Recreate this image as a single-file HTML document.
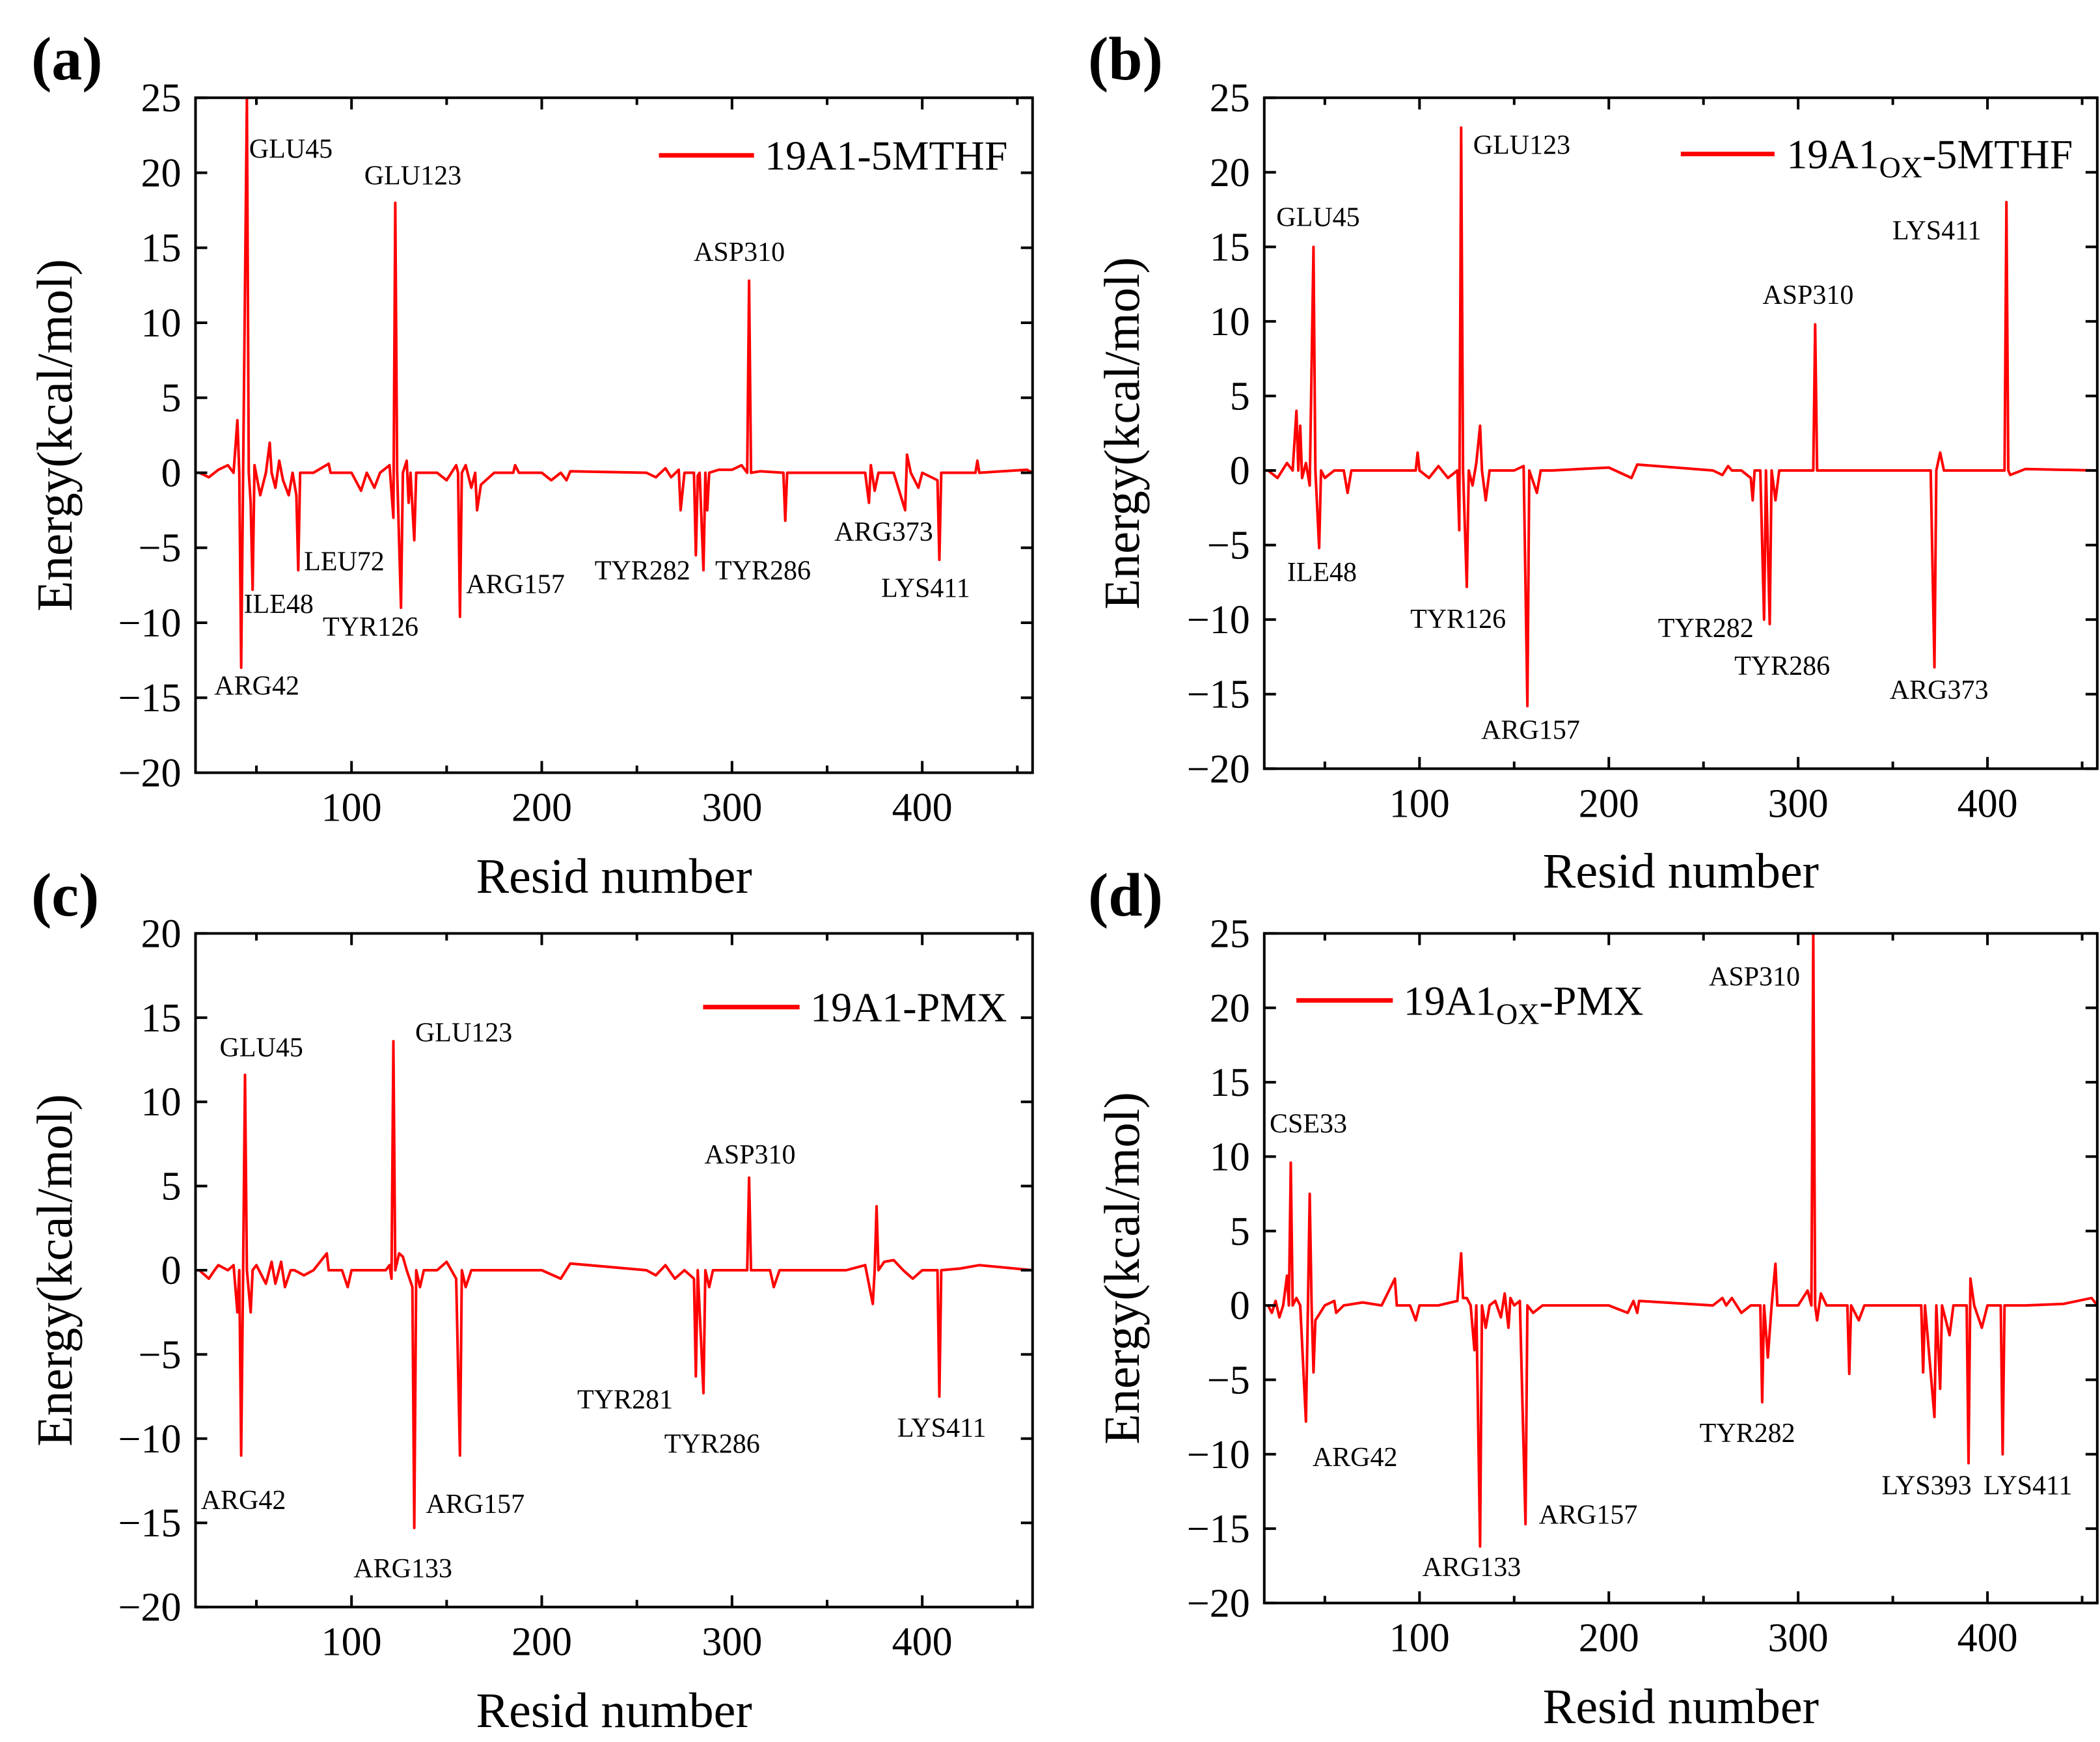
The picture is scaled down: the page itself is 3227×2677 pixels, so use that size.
<!DOCTYPE html>
<html><head><meta charset="utf-8">
<style>
html,body{margin:0;padding:0;background:#fff;}
svg{display:block;font-family:"Liberation Serif",serif;}
svg text{font-family:"Liberation Serif",serif;}
</style></head>
<body>
<svg id="fig" width="3227" height="2677" viewBox="0 0 3227 2677" xmlns="http://www.w3.org/2000/svg"></svg>
<script>
const resA=[20,25,30,35,38,40,41,42,43,45,46,47,48,49,52,55,57,58,60,62,64,67,69,71,72,73,80,88,89,100,105,108,112,115,120,122,123,124,126,127,129,130,131,133,134,140,145,150,155,156,157,158,160,163,165,166,168,175,185,186,188,200,205,210,213,215,255,260,265,268,272,273,275,280,281,282,283,285,286,287,288,293,300,305,308,309,310,315,327,328,329,340,370,372,373,375,377,385,391,392,394,398,400,408,409,410,428,429,430,455,458];
const valA=[0,-0.3,0.2,0.5,0,3.5,0,-13,0,25,0,-2,-7.8,0.5,-1.5,0,2,0,-1,0.8,-0.5,-1.5,0,-1.5,-6.5,0,0,0.6,0,0,-1.2,0,-1,0,0.5,-3,18,0,-9,0,0.8,-2,0,-4.5,0,0,0,-0.5,0.5,0,-9.6,0,0.5,-1,0,-2.5,-0.8,0,0,0.5,0,0,-0.5,0,-0.5,0.1,0,-0.3,0.3,-0.3,0.2,-2.5,0,0,-5.5,-0.2,0,-6.5,0,-2.5,0,0.2,0.2,0.5,0,12.8,0,0.1,0,-3.2,0,0,0,-2,0.5,-1.2,0,0,-2.5,1.2,0,-1,0,-0.5,-5.8,0,0,0.8,0,0.2,0];
const resB=[20,25,30,33,35,36,37,38,40,42,44,45,47,48,50,55,60,62,64,70,80,98,99,100,105,110,115,120,121,122,123,125,126,128,130,132,133,135,137,140,150,155,157,158,162,164,170,200,212,215,255,260,263,265,270,275,276,277,280,282,283,285,286,288,290,300,308,309,310,320,370,372,373,375,377,400,409,410,411,412,420,458];
const valB=[0,-0.5,0.5,0,4,0,3,-0.5,0.5,-1,15,0,-5.2,0,-0.5,0,0,-1.5,0,0,0,0,1.2,0,-0.5,0.3,-0.5,0,-4,23,0,-7.8,0,-1,0.5,3,0,-2,0,0,0,0.3,-15.8,0,-1.5,0,0,0.2,-0.5,0.4,0,-0.3,0.3,0,0,-0.5,-2,0,0,-10,0,-10.3,0,-2,0,0,0,9.8,0,0,0,-13.2,0,1.2,0,0,0,18,0,-0.3,0.1,0];
const resC=[20,25,28,30,35,38,40,41,42,43,44,45,47,48,50,55,58,60,63,65,68,70,75,80,87,88,95,98,100,110,118,120,121,122,123,125,127,129,132,133,134,136,138,145,150,155,157,158,160,163,170,200,210,215,255,260,265,270,275,280,281,282,285,286,288,290,300,308,309,310,320,322,325,360,370,374,375,376,377,380,385,390,395,400,408,409,410,420,430,458];
const valC=[0,-0.5,0,0.3,0,0.3,-2.5,0,-11,0,11.6,0,-2.5,0,0.3,-0.8,0.5,-0.8,0.5,-1,0,0,-0.3,0,1,0,0,-1,0,0,0,0.3,-0.5,13.6,0,1,0.8,0,-1,-15.3,0,-1,0,0,0.5,-0.5,-11,0,-1,0,0,0,-0.5,0.4,0,-0.3,0.3,-0.5,0,-0.5,-6.3,0,-7.3,0,-1,0,0,0,5.5,0,0,-1,0,0,0.3,-2,0,3.8,0,0.5,0.6,0,-0.5,0,0,-7.5,0,0.1,0.3,0];
const resD=[20,22,24,26,28,30,31,32,33,35,37,40,41,42,43,44,45,50,55,56,60,70,80,87,88,95,98,100,110,120,122,123,125,127,129,130,132,133,135,137,140,143,145,147,148,150,153,156,157,160,165,200,210,213,215,216,255,260,262,265,270,275,280,281,282,284,286,288,289,300,305,307,308,309,310,312,315,320,326,327,328,332,335,360,365,366,367,372,373,375,376,380,382,389,390,391,393,397,400,407,408,409,420,440,455,458];
const valD=[0,-0.5,0.3,-0.8,0,2,0,9.6,0,0.5,0,-7.8,-0.5,7.5,0,-4.5,-1,0,0.3,-0.5,0,0.2,0,1.8,0,0,-1,0,0,0.3,3.5,0.5,0.5,0,-3,0,-16.2,0,-1.5,0,0.3,-0.8,0.8,-1.5,0.5,0,0.3,-14.7,0,-0.5,0,0,-0.5,0.3,-0.5,0.3,0,0.5,0,0.5,-0.5,0,0,-6.5,0,-3.5,0,2.8,0,0,1,0,25,0,-1,0.8,0,0,0,-4.6,0,-1,0,0,0,-4.5,0,-7.5,0,-5.6,0,-2,0,0,-10.6,1.8,0,-1.5,0,0,-10,0,0,0.1,0.5,0];
const xTicks=[100,200,300,400];
const yTicks1=[25,20,15,10,5,0,-5,-10,-15,-20];
const yTicks2=[20,15,10,5,0,-5,-10,-15,-20];

const NS="http://www.w3.org/2000/svg";
const svg=document.getElementById('fig');
function mk(tag,attrs,parent){const e=document.createElementNS(NS,tag);for(const k in attrs)e.setAttribute(k,attrs[k]);(parent||svg).appendChild(e);return e;}
const S=2.058;
function panel(p){
  const g=mk('g',{});
  
  
  const L=p.l,R=p.r,T=p.t,B=p.b;
  const X=v=>L+(v-18)/(458-18)*(R-L);
  const Y=v=>T+(p.ymax-v)/(p.ymax-p.ymin)*(B-T);
  const cid='clip'+p.id;
  const cp=mk('clipPath',{id:cid},g);mk('rect',{x:L,y:T-2,width:R-L,height:B-T+4},cp);
  let d='';
  for(let i=0;i<p.res.length;i++){d+=(i?'L':'M')+X(p.res[i]).toFixed(1)+' '+Y(p.val[i]).toFixed(1);}
  const line=mk('path',{d:d,fill:'none',stroke:'#ff0000','stroke-width':4,'stroke-linejoin':'round','clip-path':'url(#'+cid+')'},g);
  
  
  const frame=mk('rect',{x:L,y:T,width:R-L,height:B-T,fill:'none',stroke:'#000','stroke-width':4},g);
  
  
  for(let v=50;v<=450;v+=50){
    const x=X(v),len=(v%100===0)?18:11;
    mk('line',{x1:x,y1:B,x2:x,y2:B-len,stroke:'#000','stroke-width':4},g);
    mk('line',{x1:x,y1:T,x2:x,y2:T+len,stroke:'#000','stroke-width':4},g);
  }
  xTicks.forEach(v=>{const t=mk('text',{x:X(v),y:B+74,'font-size':62,'text-anchor':'middle'},g);t.textContent=v;
    
    });
  p.yt.forEach(v=>{const y=Y(v);
    mk('line',{x1:L,y1:y,x2:L+18,y2:y,stroke:'#000','stroke-width':4},g);
    mk('line',{x1:R,y1:y,x2:R-18,y2:y,stroke:'#000','stroke-width':4},g);
    const t=mk('text',{x:L-22,y:y+21,'font-size':62,'text-anchor':'end'},g);t.textContent=(v<0?'\u2212'+(-v):v);
    
    });
  const xt=mk('text',{x:(L+R)/2,y:p.xly,'font-size':76,'text-anchor':'middle'},g);xt.textContent='Resid number';
  
  
  const cy=(T+B)/2;
  const yt=mk('text',{x:0,y:0,'font-size':77,'text-anchor':'middle',transform:'translate('+(p.ylx)+','+cy+') rotate(-90)'},g);yt.textContent='Energy(kcal/mol)';
  
  
  const pl=mk('text',{x:p.lx,y:p.ly,'font-size':94,'font-weight':'bold'},g);pl.textContent='('+p.id+')';
  
  
  const ll=mk('line',{x1:p.lg[0]*S,y1:p.lg[2]*S,x2:p.lg[1]*S,y2:p.lg[2]*S,stroke:'#ff0000','stroke-width':7},g);
  
  
  const lt=mk('text',{x:p.lg[3]*S,y:p.lg[2]*S+22,'font-size':64},g);
  
  
  if(p.ox){const a=mk('tspan',{},lt);a.textContent='19A1';const b=mk('tspan',{dy:14,'font-size':46},lt);b.textContent='OX';const c=mk('tspan',{dy:-14},lt);c.textContent=p.leg;}
  else lt.textContent=p.leg;
  p.ann.forEach(a=>{const t=mk('text',{x:a[1]*S,y:a[2]*S+14,'font-size':42},g);t.textContent=a[0];
    
    });
}
const top1=73*S,bot1=577*S,top2=697*S;
panel({id:'a',l:146*S,r:771*S,t:top1,b:bot1,ymax:25,ymin:-20,yt:yTicks1,res:resA,val:valA,xly:1372,ylx:110,lx:48,ly:122,
  lg:[492,563,116,571],leg:'19A1-5MTHF',ox:false,
  ann:[['GLU45',186,111],['GLU123',272,131],['ASP310',518,188],['LEU72',227,419],['ILE48',182,451],['TYR126',241,468],['ARG157',348,436],['TYR282',444,426],['TYR286',534,426],['ARG373',623,397],['LYS411',658,439],['ARG42',160,512]]});
panel({id:'b',l:944*S,r:1566*S,t:top1,b:574*S,ymax:25,ymin:-20,yt:yTicks1,res:resB,val:valB,xly:1364,ylx:1750,lx:1672,ly:122,
  lg:[1255,1325,115,1334],leg:'-5MTHF',ox:true,
  ann:[['GLU45',953,162],['GLU123',1100,108],['LYS411',1413,172],['ASP310',1316,220],['ILE48',961,427],['TYR126',1053,462],['ARG157',1106,545],['TYR282',1238,469],['TYR286',1295,497],['ARG373',1411,515]]});
panel({id:'c',l:146*S,r:771*S,t:top2,b:1200*S,ymax:20,ymin:-20,yt:yTicks2,res:resC,val:valC,xly:2654,ylx:110,lx:48,ly:1407,
  lg:[525,597,752,605],leg:'19A1-PMX',ox:false,
  ann:[['GLU45',164,782],['GLU123',310,771],['ASP310',526,862],['TYR281',431,1045],['TYR286',496,1078],['LYS411',670,1066],['ARG42',150,1120],['ARG157',318,1123],['ARG133',264,1171]]});
panel({id:'d',l:944*S,r:1566*S,t:top2,b:1197*S,ymax:25,ymin:-20,yt:yTicks1,res:resD,val:valD,xly:2648,ylx:1750,lx:1672,ly:1407,
  lg:[968,1040,747,1048],leg:'-PMX',ox:true,
  ann:[['CSE33',948,839],['ASP310',1276,729],['ARG42',980,1088],['ARG133',1062,1170],['ARG157',1149,1131],['TYR282',1269,1070],['LYS393',1405,1109],['LYS411',1481,1109]]});
</script>
</body></html>
